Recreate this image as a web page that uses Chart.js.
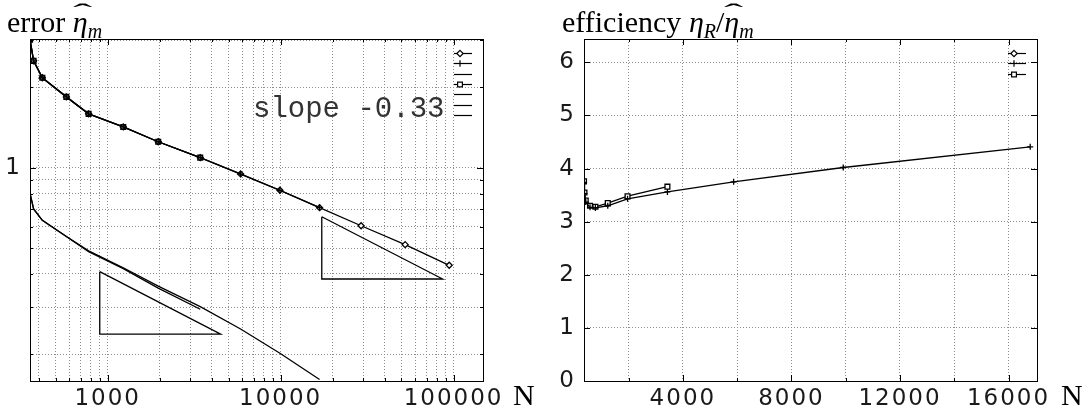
<!DOCTYPE html>
<html><head><meta charset="utf-8">
<script src="https://cdn.jsdelivr.net/npm/chart.js@4.4.1/dist/chart.umd.min.js"></script>
<style>
html,body{margin:0;padding:0;background:#fff;width:1087px;height:409px;overflow:hidden;}
#wrap{position:relative;width:1087px;height:409px;}
canvas{position:absolute;top:0;}
.t{position:absolute;font-family:'Liberation Serif','Times New Roman',serif;font-size:30px;line-height:30px;color:#000;white-space:nowrap;}
.m{position:absolute;font-family:'Liberation Mono','DejaVu Sans Mono',monospace;font-size:29px;line-height:29px;color:#333;white-space:nowrap;}
.t sub{font-size:20px;vertical-align:-6px;line-height:0;}
.h{position:relative;display:inline-block;}
.h .hat{position:absolute;left:0px;top:-10px;font-style:normal;font-size:24px;transform:scaleX(2.4);transform-origin:left top;}
</style></head><body>
<div id="wrap">
<canvas id="c1" width="543" height="409" style="left:0"></canvas>
<canvas id="c2" width="544" height="409" style="left:543px"></canvas>
<div class="t" style="left:7px;top:7px">error <i><span class="h">η<span class="hat">ˆ</span></span><sub>m</sub></i></div>
<div class="t" style="left:562px;top:7px">efficiency <i>η<sub>R</sub></i>/<i><span class="h">η<span class="hat">ˆ</span></span><sub>m</sub></i></div>
<div class="t" style="left:513px;top:380px">N</div>
<div class="t" style="left:1061px;top:380px">N</div>
<div class="m" style="left:253px;top:95px">slope -0.33</div>
</div>
<script>
// ---- data ----
const N = [356, 373, 419, 577, 776, 1231, 1960, 3430, 5870, 9910, 16800, 29200, 52500, 94400];
const errDiamond = [3.01, 2.51, 2.17, 1.84, 1.59, 1.42, 1.25, 1.09, 0.947, 0.823, 0.708, 0.606, 0.515, 0.431];
const errPlus = [3.01, 2.51, 2.17, 1.84, 1.59, 1.42, 1.25, 1.09, 0.945, 0.822, 0.708];
const errSquare = [3.01, 2.51, 2.17, 1.84, 1.59, 1.42, 1.25, 1.09];
const estPlus = [0.80, 0.70, 0.635, 0.552, 0.488, 0.422, 0.360, 0.302, 0.249, 0.202, 0.161];
const estSquare = [0.80, 0.70, 0.635, 0.552, 0.485, 0.419, 0.354, 0.295];
const tri1N = [900, 900, 4500, 900];
const tri1Y = [0.408, 0.238, 0.238, 0.408];
const tri2N = [17300, 17300, 86500, 17300];
const tri2Y = [0.655, 0.383, 0.383, 0.655];
const effDiamond = [];
const effPlus = [3.74, 3.53, 3.37, 3.27, 3.26, 3.30, 3.43, 3.56, 3.75, 4.02, 4.41];
const effSquare = [3.76, 3.55, 3.40, 3.30, 3.28, 3.35, 3.48, 3.66];
// ---- ticks ----
const leftXTicks = [400,500,600,700,800,900,1000,2000,3000,4000,5000,6000,7000,8000,9000,10000,20000,30000,40000,50000,60000,70000,80000,90000,100000];
const leftXLabels = [1000, 10000, 100000];
const leftYTicks = [0.2,0.3,0.4,0.5,0.6,0.7,0.8,0.9,1,2,3];
const leftYLabels = [1];
const rightXTicks = [2000,4000,6000,8000,10000,12000,14000,16000];
const rightXLabels = [4000,8000,12000,16000];
const rightYTicks = [0,1,2,3,4,5,6];
const rightYLabels = [0,1,2,3,4,5,6];

function pts(xs, ys){ return ys.map((y,i)=>({x:xs[i], y:y})); }

function drawMarker(ctx, style, x, y, r){
  ctx.save();
  ctx.strokeStyle='#000'; ctx.fillStyle='#fff'; ctx.lineWidth=1.2;
  ctx.beginPath();
  if(style==='rectRot'){ ctx.moveTo(x,y-r);ctx.lineTo(x+r,y);ctx.lineTo(x,y+r);ctx.lineTo(x-r,y);ctx.closePath();ctx.fill();ctx.stroke(); }
  else if(style==='rect'){ const s=r*0.75; ctx.rect(x-s,y-s,2*s,2*s);ctx.fill();ctx.stroke(); }
  else if(style==='cross'){ ctx.moveTo(x-r,y);ctx.lineTo(x+r,y);ctx.moveTo(x,y-r);ctx.lineTo(x,y+r);ctx.stroke(); }
  ctx.restore();
}

const framePlugin = {
  id:'frame',
  beforeDraw(chart){ chart.ctx.letterSpacing='2px'; },
  afterDraw(chart){
    const ctx=chart.ctx, a=chart.chartArea, o=chart.options.plugins.frame;
    ctx.letterSpacing='0px';
    ctx.save();
    ctx.strokeStyle='#000'; ctx.lineWidth=1;
    const xs=chart.scales.x, ys=chart.scales.y;
    ctx.beginPath();
    xs.ticks.forEach(t=>{
      const px=Math.round(xs.getPixelForValue(t.value))+0.5;
      const L=o.xMajor.includes(t.value)?6:3;
      ctx.moveTo(px,a.bottom);ctx.lineTo(px,a.bottom-L);
      ctx.moveTo(px,a.top);ctx.lineTo(px,a.top+L);
    });
    ys.ticks.forEach(t=>{
      const py=Math.round(ys.getPixelForValue(t.value))+0.5;
      const L=o.yMajor.includes(t.value)?6:3;
      ctx.moveTo(a.left,py);ctx.lineTo(a.left+L,py);
      ctx.moveTo(a.right,py);ctx.lineTo(a.right-L,py);
    });
    ctx.stroke();
    ctx.strokeRect(Math.round(a.left)+0.5,Math.round(a.top)+0.5,Math.round(a.right-a.left),Math.round(a.bottom-a.top));
    // key: samples only, no text (as in the reference)
    chart.data.datasets.forEach((ds,i)=>{
      const y=Math.round(a.top+14+i*10.3)+0.5;
      const x0=a.right-29, x1=a.right-11;
      ctx.beginPath();ctx.lineWidth=1.2;ctx.moveTo(x0,y);ctx.lineTo(x1,y);ctx.stroke();
      if(ds.pointRadius>0) drawMarker(ctx, ds.pointStyle, x0+6, y, 3.2);
    });
    ctx.restore();
  }
};

function ds(data, style, order){
  return {data:data, borderColor:'#000', backgroundColor:'#fff', borderWidth:1.3,
    pointStyle: style||'circle', pointRadius: style?(style==='rect'?3.4:3):0, pointBorderWidth:1.3,
    pointBackgroundColor:'#fff', pointBorderColor:'#000', tension:0, fill:false, order:order||0};
}

const tickFont={family:'DejaVu Sans', size:23};
const gridOpts={color:'#8c8c8c', lineWidth:1, drawTicks:false};
const borderOpts={display:false, dash:[1,2]};

function axis(type,min,max,ticksArr,labels,isX,fixed){
  return {
    type:type, min:min, max:max,
    afterBuildTicks: ax=>{ ax.ticks = ticksArr.map(v=>({value:v})); },
    afterFit: ax=>{ if(isX){ax.height=fixed;} else {ax.width=fixed;} ax.paddingLeft=0;ax.paddingRight=0;ax.paddingTop=0;ax.paddingBottom=0; },
    ticks:{autoSkip:false,maxRotation:0,minRotation:0,padding:isX?4:8,color:'#1a1a1a',font:tickFont,
      callback:(v)=> labels.includes(v)?String(v):''},
    grid:gridOpts, border:borderOpts
  };
}

new Chart(document.getElementById('c1'),{
  type:'line',
  data:{datasets:[
    ds(pts(N,errDiamond),'rectRot',2),
    ds(pts(N,errPlus),'cross',1),
    ds(pts(N,estPlus),null,4),
    ds(pts(N,errSquare),'rect',3),
    ds(pts(N,estSquare),null,5),
    ds(pts(tri1N,tri1Y),null,6),
    ds(pts(tri2N,tri2Y),null,7)
  ]},
  options:{
    responsive:false, animation:false, devicePixelRatio:1,
    layout:{padding:{top:39,right:60,left:0,bottom:0}},
    plugins:{legend:{display:false},tooltip:{enabled:false},title:{display:false},
      frame:{xMajor:leftXLabels,yMajor:leftYLabels}},
    scales:{
      x:axis('logarithmic',355.6,148000,leftXTicks,leftXLabels,true,28),
      y:axis('logarithmic',0.159,3.03,leftYTicks,leftYLabels,false,30)
    }
  },
  plugins:[framePlugin]
});

new Chart(document.getElementById('c2'),{
  type:'line',
  data:{datasets:[
    ds(pts(N,effDiamond),'rectRot',2),
    ds(pts(N,effPlus),'cross',1),
    ds(pts(N,effSquare),'rect',3)
  ]},
  options:{
    responsive:false, animation:false, devicePixelRatio:1,
    layout:{padding:{top:39,right:50,left:0,bottom:0}},
    plugins:{legend:{display:false},tooltip:{enabled:false},title:{display:false},
      frame:{xMajor:rightXLabels,yMajor:rightYLabels}},
    scales:{
      x:axis('linear',355.6,17050,rightXTicks,rightXLabels,true,28),
      y:axis('linear',0,6.44,rightYTicks,rightYLabels,false,41)
    }
  },
  plugins:[framePlugin]
});
</script>
</body></html>
